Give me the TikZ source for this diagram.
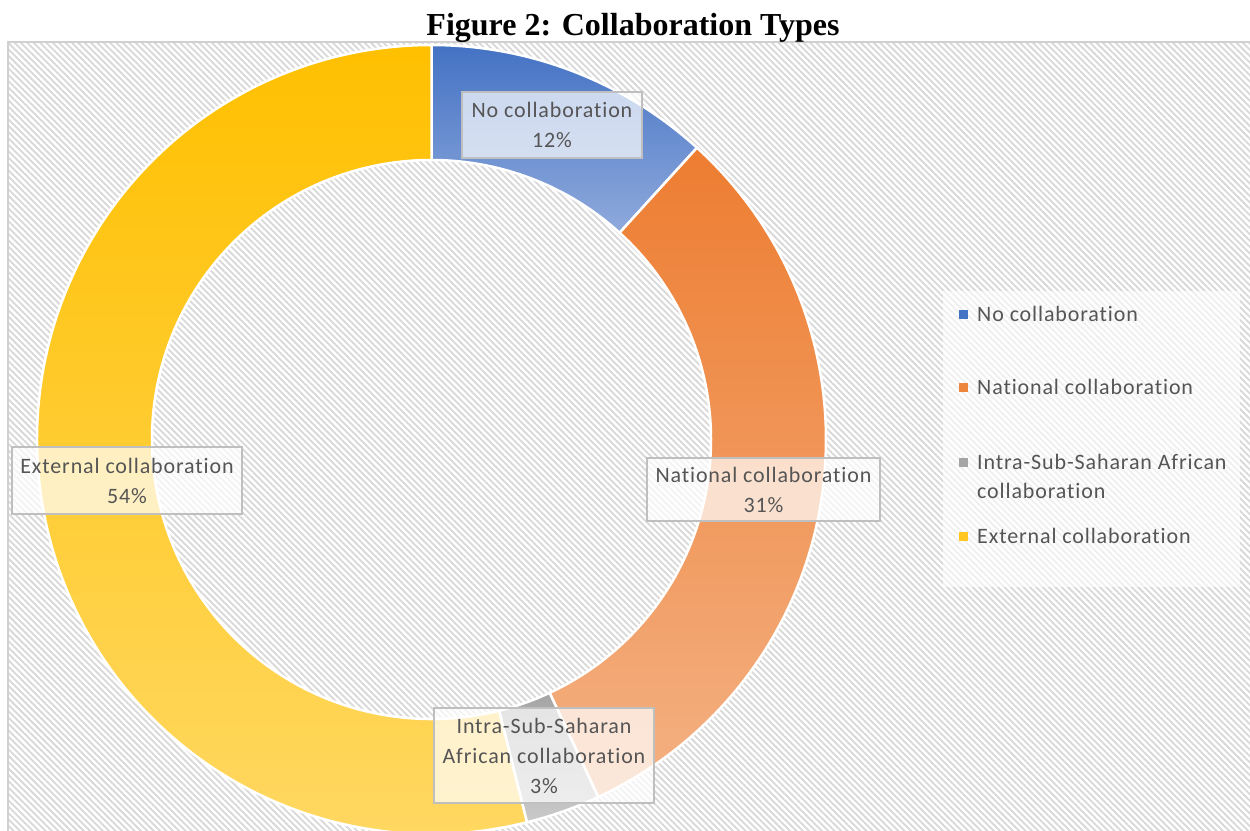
\documentclass[tikz,border=0pt]{standalone}
\usepackage{fontspec}
\usetikzlibrary{patterns.meta}
\newfontfamily\lblfont[LetterSpace=4,Ligatures=NoCommon]{Carlito}
\newfontfamily\ttlfont{Liberation Serif}
\definecolor{cblue}{HTML}{4472C4}
\definecolor{cbluel}{HTML}{8FAADC}
\definecolor{corange}{HTML}{ED7D31}
\definecolor{corangel}{HTML}{F4B183}
\definecolor{cgray}{HTML}{A5A5A5}
\definecolor{cgrayl}{HTML}{C9C9C9}
\definecolor{cyellow}{HTML}{FFC000}
\definecolor{cyellowl}{HTML}{FFD966}
\definecolor{txtgray}{HTML}{555555}
\definecolor{hatch}{HTML}{D8D8D8}
\definecolor{frame}{HTML}{D0D0D0}
\definecolor{boxline}{HTML}{BFBFBF}
\tikzset{
  slicestyle/.style={draw=white, line width=2.5pt},
  lblbox/.style={draw=boxline, line width=1.5pt, fill=white, fill opacity=0.7, text opacity=1,
    text=txtgray, align=center, inner sep=0pt,
    font=\lblfont\fontsize{22}{30}\selectfont},
  legtext/.style={text=txtgray, anchor=west, align=left, inner sep=0pt,
    font=\lblfont\fontsize{22}{29}\selectfont},
  legmark/.style={minimum width=9pt, minimum height=9pt, inner sep=0pt}
}
\begin{document}
\begin{tikzpicture}[x=1pt,y=1pt]
\useasboundingbox (0,0) rectangle (1250,-830);
\fill[white] (0,0) rectangle (1250,-830);
% chart area
\path[pattern={Lines[angle=-45,distance=4.5pt,line width=1.8pt]}, pattern color=hatch]
  (8,-42) rectangle (1262,-842);
\draw[frame, line width=1.5pt] (8,-842) -- (8,-42) -- (1262,-42);
% title
\node[anchor=base, inner sep=0pt, font=\ttlfont\bfseries\fontsize{32}{36}\selectfont] (title) at (633,-35) {Figure 2: Collaboration Types};
% donut
\coordinate (C) at (431.5,-439.5);
\path[slicestyle, top color=cblue, bottom color=cbluel]
  ([shift={(90:394.5)}]C) arc[start angle=90, end angle=47.7, radius=394.5]
  -- ([shift={(47.7:279.5)}]C) arc[start angle=47.7, end angle=90, radius=279.5] -- cycle;
\path[slicestyle, top color=corange, bottom color=corangel]
  ([shift={(47.7:394.5)}]C) arc[start angle=47.7, end angle=-65, radius=394.5]
  -- ([shift={(-65:279.5)}]C) arc[start angle=-65, end angle=47.7, radius=279.5] -- cycle;
\path[slicestyle, top color=cgray, bottom color=cgrayl]
  ([shift={(-65:394.5)}]C) arc[start angle=-65, end angle=-76, radius=394.5]
  -- ([shift={(-76:279.5)}]C) arc[start angle=-76, end angle=-65, radius=279.5] -- cycle;
\path[slicestyle, top color=cyellow, bottom color=cyellowl]
  ([shift={(-76:394.5)}]C) arc[start angle=-76, end angle=-270, radius=394.5]
  -- ([shift={(-270:279.5)}]C) arc[start angle=-270, end angle=-76, radius=279.5] -- cycle;
% data labels
\node[lblbox, minimum width=180pt, minimum height=66pt] (lno) at (552,-125) {No collaboration\\12\%};
\node[lblbox, minimum width=233pt, minimum height=63pt] (lnat) at (763.5,-489.5) {National collaboration\\31\%};
\node[lblbox, minimum width=230pt, minimum height=67pt] (lext) at (127,-480.5) {External collaboration\\54\%};
\node[lblbox, minimum width=220pt, minimum height=95pt] (lintra) at (544,-755.5) {Intra-Sub-Saharan\\African collaboration\\3\%};
% legend
\fill[white, fill opacity=0.6] (943,-291) rectangle (1240,-587);
\node[legmark, fill=cblue] (m1) at (963,-314) {};
\node[legmark, fill=corange!85!corangel] (m2) at (963,-387) {};
\node[legmark, fill=cgray] (m3) at (963,-462) {};
\node[legmark, fill=cyellow!70!cyellowl] (m4) at (963,-536) {};
\node[legtext] (t1) at (977,-314) {No collaboration};
\node[legtext] (t2) at (977,-387) {National collaboration};
\node[legtext] (t3) at (977,-476.5) {Intra-Sub-Saharan African\\collaboration};
\node[legtext] (t4) at (977,-536) {External collaboration};
\end{tikzpicture}
\end{document}
